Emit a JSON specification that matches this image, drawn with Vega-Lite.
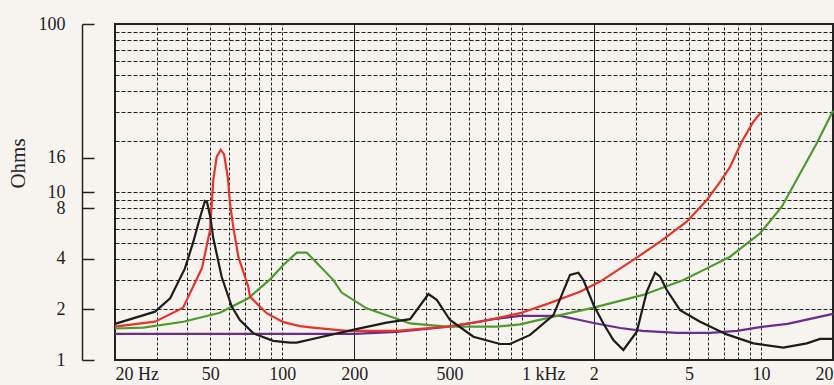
{
  "$schema": "https://vega.github.io/schema/vega-lite/v6.json",
  "width": 718,
  "height": 336,
  "autosize": {"type": "none"},
  "padding": {"left": 115, "top": 24, "right": 1, "bottom": 25},
  "background": "#f7f4f0",
  "config": {
    "view": {"stroke": "#222222", "strokeWidth": 2},
    "font": "Liberation Serif",
    "axis": {"labelFont": "Liberation Serif", "titleFont": "Liberation Serif", "labelColor": "#222222", "titleColor": "#222222"}
  },
  "data": {
    "values": [
      {"series": "purple", "freq": 20, "ohms": 1.43},
      {"series": "purple", "freq": 100, "ohms": 1.43},
      {"series": "purple", "freq": 200, "ohms": 1.43},
      {"series": "purple", "freq": 300, "ohms": 1.47},
      {"series": "purple", "freq": 400, "ohms": 1.53},
      {"series": "purple", "freq": 520, "ohms": 1.59},
      {"series": "purple", "freq": 760, "ohms": 1.75},
      {"series": "purple", "freq": 985, "ohms": 1.83},
      {"series": "purple", "freq": 1450, "ohms": 1.83},
      {"series": "purple", "freq": 1750, "ohms": 1.73},
      {"series": "purple", "freq": 2000, "ohms": 1.66},
      {"series": "purple", "freq": 2580, "ohms": 1.55},
      {"series": "purple", "freq": 3200, "ohms": 1.49},
      {"series": "purple", "freq": 4460, "ohms": 1.45},
      {"series": "purple", "freq": 6130, "ohms": 1.45},
      {"series": "purple", "freq": 7950, "ohms": 1.49},
      {"series": "purple", "freq": 9920, "ohms": 1.57},
      {"series": "purple", "freq": 12900, "ohms": 1.64},
      {"series": "purple", "freq": 20000, "ohms": 1.88},
      {"series": "green", "freq": 20, "ohms": 1.54},
      {"series": "green", "freq": 26.3, "ohms": 1.56},
      {"series": "green", "freq": 38.6, "ohms": 1.69},
      {"series": "green", "freq": 54.9, "ohms": 1.91},
      {"series": "green", "freq": 72.1, "ohms": 2.33},
      {"series": "green", "freq": 88.9, "ohms": 3.02},
      {"series": "green", "freq": 101, "ohms": 3.68},
      {"series": "green", "freq": 115, "ohms": 4.36},
      {"series": "green", "freq": 126.5, "ohms": 4.36},
      {"series": "green", "freq": 163.5, "ohms": 2.99},
      {"series": "green", "freq": 177, "ohms": 2.52},
      {"series": "green", "freq": 225, "ohms": 2.03},
      {"series": "green", "freq": 342, "ohms": 1.65},
      {"series": "green", "freq": 486, "ohms": 1.58},
      {"series": "green", "freq": 787, "ohms": 1.58},
      {"series": "green", "freq": 985, "ohms": 1.63},
      {"series": "green", "freq": 1448, "ohms": 1.85},
      {"series": "green", "freq": 2000, "ohms": 2.05},
      {"series": "green", "freq": 3218, "ohms": 2.44},
      {"series": "green", "freq": 4742, "ohms": 2.99},
      {"series": "green", "freq": 5940, "ohms": 3.51},
      {"series": "green", "freq": 7430, "ohms": 4.12},
      {"series": "green", "freq": 9920, "ohms": 5.68},
      {"series": "green", "freq": 12220, "ohms": 8.18},
      {"series": "green", "freq": 14570, "ohms": 12.9},
      {"series": "green", "freq": 17110, "ohms": 19.5},
      {"series": "green", "freq": 20000, "ohms": 30.5},
      {"series": "red", "freq": 20, "ohms": 1.58},
      {"series": "red", "freq": 29.4, "ohms": 1.69},
      {"series": "red", "freq": 38.5, "ohms": 2.05},
      {"series": "red", "freq": 46.2, "ohms": 3.53},
      {"series": "red", "freq": 49.9, "ohms": 5.94},
      {"series": "red", "freq": 51.5, "ohms": 11.8},
      {"series": "red", "freq": 53.2, "ohms": 16.2},
      {"series": "red", "freq": 55.3, "ohms": 17.8},
      {"series": "red", "freq": 57.1, "ohms": 16.8},
      {"series": "red", "freq": 59.3, "ohms": 12},
      {"series": "red", "freq": 60.5, "ohms": 8.5},
      {"series": "red", "freq": 62.4, "ohms": 6.2},
      {"series": "red", "freq": 65.5, "ohms": 4.12},
      {"series": "red", "freq": 72.1, "ohms": 2.73},
      {"series": "red", "freq": 73.3, "ohms": 2.38},
      {"series": "red", "freq": 86.1, "ohms": 1.9},
      {"series": "red", "freq": 101, "ohms": 1.68},
      {"series": "red", "freq": 118.6, "ohms": 1.59},
      {"series": "red", "freq": 134, "ohms": 1.56},
      {"series": "red", "freq": 186, "ohms": 1.49},
      {"series": "red", "freq": 301, "ohms": 1.49},
      {"series": "red", "freq": 486, "ohms": 1.58},
      {"series": "red", "freq": 670, "ohms": 1.69},
      {"series": "red", "freq": 985, "ohms": 1.9},
      {"series": "red", "freq": 1274, "ohms": 2.15},
      {"series": "red", "freq": 1754, "ohms": 2.55},
      {"series": "red", "freq": 2128, "ohms": 2.93},
      {"series": "red", "freq": 2930, "ohms": 3.94},
      {"series": "red", "freq": 3790, "ohms": 5.06},
      {"series": "red", "freq": 4898, "ohms": 6.66},
      {"series": "red", "freq": 5940, "ohms": 8.97},
      {"series": "red", "freq": 6750, "ohms": 11.5},
      {"series": "red", "freq": 7430, "ohms": 14.1},
      {"series": "red", "freq": 8310, "ohms": 19.9},
      {"series": "red", "freq": 9300, "ohms": 26.2},
      {"series": "red", "freq": 9980, "ohms": 29.7},
      {"series": "black", "freq": 20, "ohms": 1.64},
      {"series": "black", "freq": 29.4, "ohms": 1.94},
      {"series": "black", "freq": 34, "ohms": 2.33},
      {"series": "black", "freq": 39.2, "ohms": 3.51},
      {"series": "black", "freq": 42.5, "ohms": 5.06},
      {"series": "black", "freq": 45, "ohms": 6.81},
      {"series": "black", "freq": 47.5, "ohms": 8.84},
      {"series": "black", "freq": 48.5, "ohms": 8.7},
      {"series": "black", "freq": 50, "ohms": 7.13},
      {"series": "black", "freq": 51.5, "ohms": 5.3},
      {"series": "black", "freq": 55.8, "ohms": 3.13},
      {"series": "black", "freq": 61.5, "ohms": 2.08},
      {"series": "black", "freq": 66.5, "ohms": 1.73},
      {"series": "black", "freq": 75.7, "ohms": 1.44},
      {"series": "black", "freq": 91.7, "ohms": 1.3},
      {"series": "black", "freq": 107.7, "ohms": 1.27},
      {"series": "black", "freq": 115, "ohms": 1.27},
      {"series": "black", "freq": 144, "ohms": 1.365},
      {"series": "black", "freq": 197, "ohms": 1.51},
      {"series": "black", "freq": 273, "ohms": 1.67},
      {"series": "black", "freq": 342, "ohms": 1.75},
      {"series": "black", "freq": 408, "ohms": 2.47},
      {"series": "black", "freq": 442, "ohms": 2.28},
      {"series": "black", "freq": 502, "ohms": 1.73},
      {"series": "black", "freq": 629, "ohms": 1.376},
      {"series": "black", "freq": 812, "ohms": 1.245},
      {"series": "black", "freq": 895, "ohms": 1.245},
      {"series": "black", "freq": 1085, "ohms": 1.41},
      {"series": "black", "freq": 1358, "ohms": 1.85},
      {"series": "black", "freq": 1593, "ohms": 3.21},
      {"series": "black", "freq": 1726, "ohms": 3.31},
      {"series": "black", "freq": 1812, "ohms": 2.99},
      {"series": "black", "freq": 2000, "ohms": 2.12},
      {"series": "black", "freq": 2196, "ohms": 1.65},
      {"series": "black", "freq": 2417, "ohms": 1.315},
      {"series": "black", "freq": 2662, "ohms": 1.147},
      {"series": "black", "freq": 3028, "ohms": 1.474},
      {"series": "black", "freq": 3334, "ohms": 2.55},
      {"series": "black", "freq": 3612, "ohms": 3.31},
      {"series": "black", "freq": 3790, "ohms": 3.13},
      {"series": "black", "freq": 4041, "ohms": 2.61},
      {"series": "black", "freq": 4593, "ohms": 1.98},
      {"series": "black", "freq": 5568, "ohms": 1.69},
      {"series": "black", "freq": 7200, "ohms": 1.42},
      {"series": "black", "freq": 9300, "ohms": 1.257},
      {"series": "black", "freq": 12410, "ohms": 1.184},
      {"series": "black", "freq": 15540, "ohms": 1.257},
      {"series": "black", "freq": 17660, "ohms": 1.334},
      {"series": "black", "freq": 20000, "ohms": 1.334}
    ]
  },
  "layer": [
    {
      "mark": {"type": "line", "opacity": 0},
      "encoding": {
        "x": {"field": "freq", "type": "quantitative",
          "scale": {"type": "log", "domain": [20, 20000], "nice": false},
          "axis": {"orient": "top", "values": [30, 40, 50, 60, 70, 80, 90, 100, 300, 400, 500, 600, 700, 800, 900, 1000, 3000, 4000, 5000, 6000, 7000, 8000, 9000, 10000],
            "grid": true, "gridColor": "#222222", "gridDash": [3, 2], "gridWidth": 1, "labels": false, "ticks": false, "domain": false, "title": null}},
        "y": {"field": "ohms", "type": "quantitative",
          "scale": {"type": "log", "domain": [1, 100], "nice": false},
          "axis": {"orient": "right", "values": [2, 3, 4, 5, 6, 7, 8, 9, 10, 20, 30, 40, 50, 60, 70, 80, 90],
            "grid": true, "gridColor": "#222222", "gridDash": [4, 2], "gridWidth": 1, "labels": false, "ticks": false, "domain": false, "title": null}},
        "detail": {"field": "series"}
      }
    },
    {
      "mark": {"type": "line", "opacity": 0},
      "encoding": {
        "x": {"field": "freq", "type": "quantitative",
          "scale": {"type": "log", "domain": [20, 20000], "nice": false},
          "axis": {"orient": "top", "values": [200, 2000], "grid": true, "gridColor": "#222222", "gridWidth": 1, "labels": false, "ticks": false, "domain": false, "title": null}},
        "y": {"field": "ohms", "type": "quantitative",
          "scale": {"type": "log", "domain": [1, 100], "nice": false}, "axis": null},
        "detail": {"field": "series"}
      }
    },
    {
      "mark": {"type": "line", "strokeWidth": 2.2},
      "encoding": {
        "x": {"field": "freq", "type": "quantitative",
          "scale": {"type": "log", "domain": [20, 20000], "nice": false},
          "axis": {"orient": "bottom", "values": [20, 50, 100, 200, 500, 1000, 2000, 5000, 10000, 20000],
            "labelExpr": "datum.value == 20 ? '20 Hz' : datum.value == 1000 ? '1 kHz' : datum.value >= 2000 ? '' + (datum.value / 1000) : '' + datum.value",
            "labelAlign": {"condition": [{"test": "datum.value == 20 || datum.value == 1000", "value": "left"}, {"test": "datum.value == 20000", "value": "right"}], "value": "center"},
            "grid": false, "ticks": false, "domain": false, "labelFontSize": 18, "labelPadding": 5, "labelOverlap": false, "labelBound": false, "labelFlush": false, "title": null}},
        "y": {"field": "ohms", "type": "quantitative",
          "scale": {"type": "log", "domain": [1, 100], "nice": false},
          "axis": {"orient": "left", "offset": 33, "values": [1, 2, 4, 8, 10, 16, 100], "grid": false,
            "tickSize": -12, "tickColor": "#222222", "tickWidth": 1.5, "domainColor": "#222222", "domainWidth": 1.5,
            "labelFontSize": 18, "labelPadding": 29, "labelOverlap": false, "labelBound": false, "labelFlush": false,
            "title": "Ohms", "titleFontSize": 21, "titleFontWeight": "normal", "titleX": -58, "titleY": 139, "titleBaseline": "alphabetic", "titleAngle": -90}},
        "color": {"field": "series", "type": "nominal",
          "scale": {"domain": ["purple", "green", "red", "black"], "range": ["#6a2d8e", "#4f9a30", "#e6342b", "#1c1c1c"]},
          "legend": null}
      }
    }
  ],
  "resolve": {"axis": {"x": "independent", "y": "independent"}}
}
